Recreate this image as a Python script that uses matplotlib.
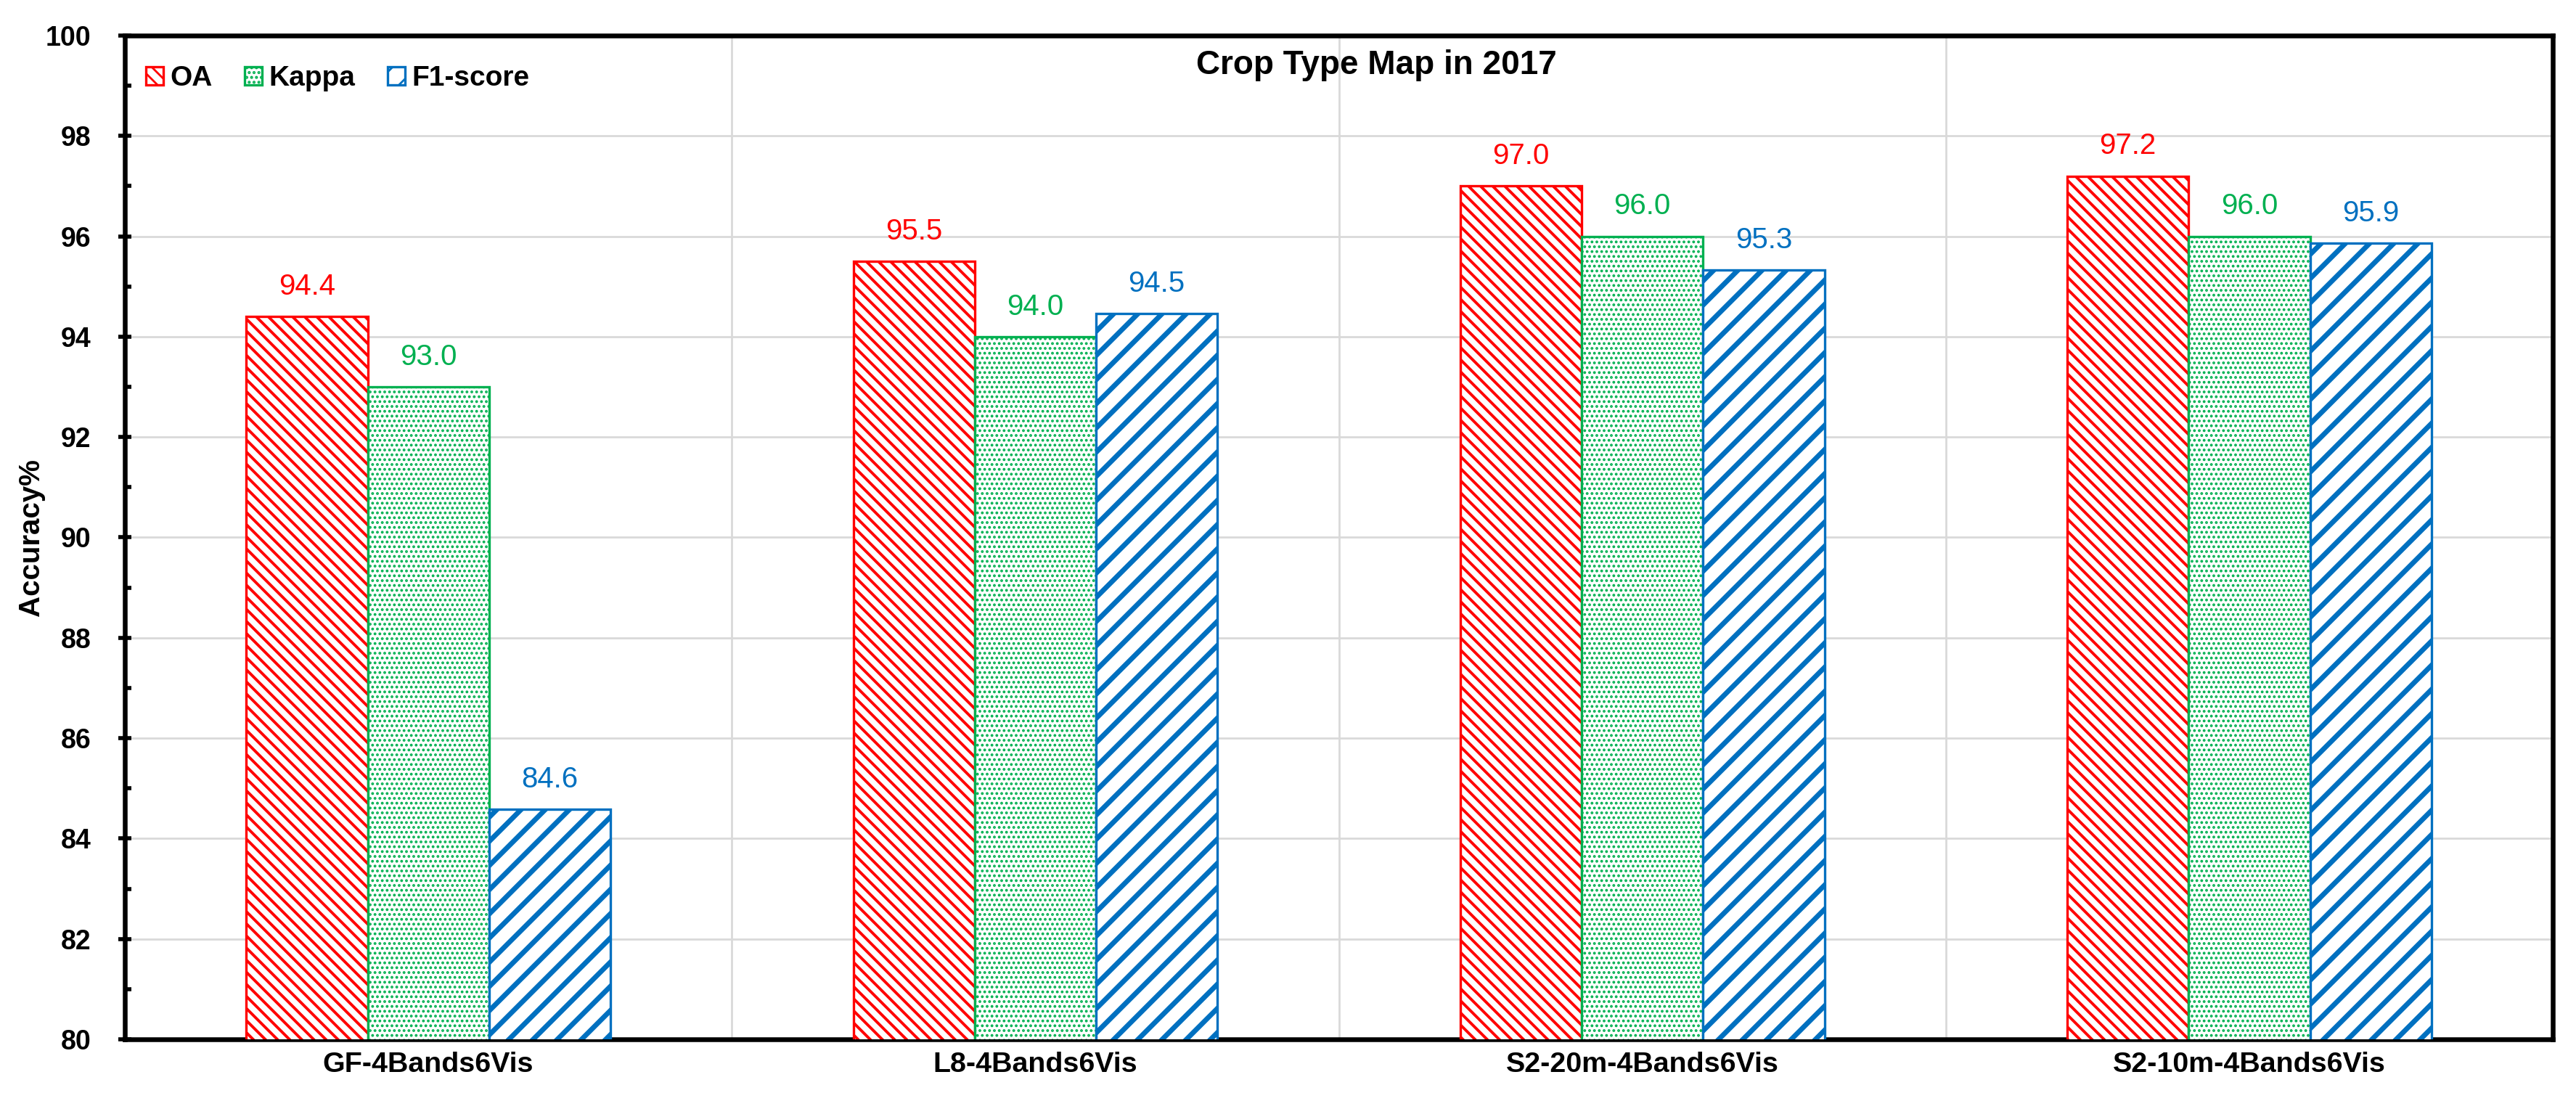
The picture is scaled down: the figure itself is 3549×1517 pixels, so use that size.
import matplotlib
matplotlib.use("Agg")
import matplotlib.pyplot as plt
import numpy as np

categories = ["GF-4Bands6Vis", "L8-4Bands6Vis", "S2-20m-4Bands6Vis", "S2-10m-4Bands6Vis"]
series_names = ["OA", "Kappa", "F1-score"]
oa = [94.4, 95.5, 97.0, 97.2]
kappa = [93.0, 94.0, 96.0, 96.0]
f1 = [84.58, 94.46, 95.33, 95.86]
yticks = list(range(80, 101, 2))
title = "Crop Type Map in 2017"
ylabel = "Accuracy%"

colors = ["#FF0000", "#00B050", "#0070C0"]
hatches = ["\\\\\\\\", ".....", "//"]
hatch_lws = [1.4, 0.9, 2.5]

plt.rcParams['font.family'] = ['Liberation Sans', 'DejaVu Sans']

fig = plt.figure(figsize=(3549 / 200, 1517 / 200), dpi=200)
ax = fig.add_axes([172 / 3549, 1 - 1432 / 1517, (3517 - 172) / 3549, (1432 - 49) / 1517])

x = np.arange(len(categories))
width = 0.2
data = [oa, kappa, f1]
for i, (vals, name) in enumerate(zip(data, series_names)):
    with plt.rc_context({'hatch.linewidth': hatch_lws[i]}):
        bars = ax.bar(x + (i - 1) * width, vals, width, bottom=0, label=name,
                      facecolor="white", edgecolor=colors[i], hatch=hatches[i],
                      linewidth=1.2, zorder=3)
        for b in bars:
            if hasattr(b, "set_hatch_linewidth"):
                b.set_hatch_linewidth(hatch_lws[i])
    for xi, v in zip(x + (i - 1) * width, vals):
        ax.annotate(f"{v:.1f}", (xi, v), xytext=(0, 8), textcoords="offset points",
                    ha="center", va="bottom", color=colors[i], fontsize=14.5, zorder=4)

ax.set_xlim(-0.5, len(categories) - 0.5)
ax.set_ylim(80, 100)
ax.set_yticks(yticks)
ax.set_yticks(list(range(81, 100, 2)), minor=True)
ax.tick_params(axis='y', which='major', direction='inout', length=6.5, width=2.0,
               labelsize=13.5, pad=13.5)
ax.tick_params(axis='y', which='minor', direction='in', length=3.2, width=2.0)
for lab in ax.get_yticklabels():
    lab.set_fontweight('bold')
ax.set_xticks(x)
ax.set_xticklabels(categories, fontweight='bold', fontsize=14.2)
ax.tick_params(axis='x', length=0, pad=6)

ax.grid(axis='y', color='#D9D9D9', linewidth=1.0, zorder=0)
for b in np.arange(0.5, len(categories) - 0.5, 1.0):
    ax.axvline(b, color='#D9D9D9', linewidth=1.0, zorder=0)

for s in ax.spines.values():
    s.set_linewidth(2.35)
    s.set_color('black')

ax.set_ylabel(ylabel, fontweight='bold', fontsize=14.5)
ax.yaxis.set_label_coords(-0.0329, 0.5)

ax.text(0.5155, 0.970, title, transform=ax.transAxes, ha='center', va='center',
        fontsize=16.5, fontweight='bold')

leg = ax.legend(loc='center left', bbox_to_anchor=(0.0087, 0.957), frameon=False,
                ncol=3, prop={'weight': 'bold', 'size': 14},
                handlelength=0.62, handleheight=0.62, handletextpad=0.23,
                columnspacing=1.15, borderpad=0, borderaxespad=0)

fig.savefig("out.png", dpi=200, facecolor="white")
